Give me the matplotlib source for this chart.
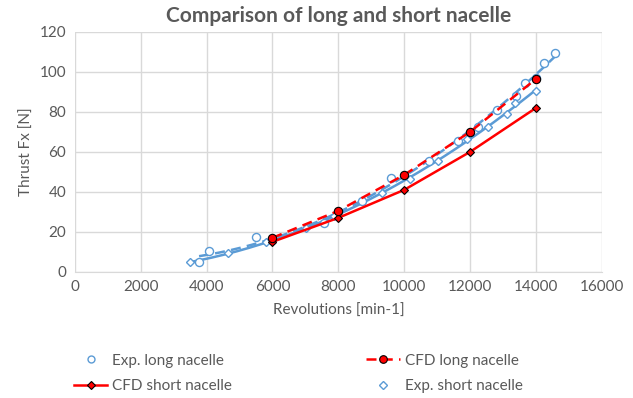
import numpy as np
import matplotlib
matplotlib.use('Agg')
import matplotlib.pyplot as plt
from matplotlib.lines import Line2D

plt.rcParams['font.family'] = ['Lato', 'DejaVu Sans']

# experiment, long nacelle (open circles)
exp_long_rpm = [3774, 4077, 5515, 6000, 7570, 8000, 8713, 9594, 10757, 11637,
                12244, 12815, 13380, 13660, 14000, 14248, 14562]
exp_long_fx = [4.7, 10.5, 17.2, 16.0, 24.3, 30.0, 35.6, 47.0, 55.6, 65.5,
               72.3, 81.0, 88.0, 94.3, 97.0, 104.3, 109.3]

# experiment, short nacelle (open diamonds)
exp_short_rpm = [3491, 4655, 5798, 7013, 7863, 9310, 10170, 11030, 11890,
                 12528, 13124, 13357, 13995]
exp_short_fx = [4.7, 9.2, 14.7, 21.8, 28.0, 39.3, 46.3, 55.6, 66.3,
                72.3, 79.0, 84.3, 90.2]

# CFD
cfd_rpm = [6000, 8000, 10000, 12000, 14000]
cfd_long_fx = [17.0, 30.5, 48.5, 70.0, 96.5]
cfd_short_fx = [15.0, 27.0, 41.0, 60.0, 82.0]

blue = '#5B9BD5'
red = '#FF0000'
grey = '#595959'

fig = plt.figure(figsize=(6.33, 3.98), dpi=100)
ax = fig.add_axes([0.118, 0.317, 0.833, 0.603])

# excel style 2nd order trendlines of the experiments
for rpm, fx, ls in [(exp_long_rpm, exp_long_fx, (0, (4, 2.5))),
                    (exp_short_rpm, exp_short_fx, '-')]:
    c = np.polyfit(rpm, fx, 2)
    xs = np.linspace(min(rpm), max(rpm), 200)
    ax.plot(xs, np.polyval(c, xs), color=blue, lw=1.8, ls=ls, zorder=2)

ax.plot(exp_long_rpm, exp_long_fx, 'o', ms=5.8, mfc='white', mec=blue,
        mew=1.0, ls='none', zorder=3)
ax.plot(exp_short_rpm, exp_short_fx, 'D', ms=3.8, mfc='white', mec=blue,
        mew=1.0, ls='none', zorder=3)

ax.plot(cfd_rpm, cfd_short_fx, color=red, lw=1.8, marker='D', ms=4.5,
        mfc=red, mec='black', mew=0.8, zorder=4)
ax.plot(cfd_rpm, cfd_long_fx, color=red, lw=1.8, ls=(0, (4, 2.5)), marker='o',
        ms=6, mfc=red, mec='black', mew=0.8, zorder=4)

ax.set_xlim(0, 16000)
ax.set_ylim(0, 120)
ax.set_xticks(np.arange(0, 16001, 2000))
ax.set_yticks(np.arange(0, 121, 20))
ax.grid(True, color='#D9D9D9', lw=1)
ax.set_axisbelow(True)
for s in ['top', 'right', 'left']:
    ax.spines[s].set_visible(False)
ax.spines['bottom'].set_color('#D9D9D9')
ax.tick_params(length=0, labelsize=11, colors=grey, pad=6)

ax.set_title('Comparison of long and short nacelle', fontsize=15,
             fontweight='bold', color=grey, pad=7)
ax.set_xlabel('Revolutions [min-1]', fontsize=11, color=grey, labelpad=7)
ax.set_ylabel('Thrust Fx [N]', fontsize=11, color=grey, labelpad=4)

h_exp_long = Line2D([], [], ls='none', marker='o', ms=5, mfc='white', mec=blue)
h_cfd_long = Line2D([], [], color=red, lw=1.8, ls=(0, (4, 2.5)), marker='o',
                    ms=5.5, mfc=red, mec='black', mew=0.8)
h_cfd_short = Line2D([], [], color=red, lw=1.8, marker='D', ms=4, mfc=red,
                     mec='black', mew=0.8)
h_exp_short = Line2D([], [], ls='none', marker='D', ms=3.8, mfc='white', mec=blue)

leg = fig.legend([h_exp_long, h_cfd_short, h_cfd_long, h_exp_short],
                 ['Exp. long nacelle', 'CFD short nacelle',
                  'CFD long nacelle', 'Exp. short nacelle'],
                 ncol=2, loc='lower left', bbox_to_anchor=(0.095, -0.022),
                 frameon=False, fontsize=11, handlelength=2.2,
                 handletextpad=0.3, columnspacing=8.8, labelspacing=0.75)
for t in leg.get_texts():
    t.set_color(grey)

fig.savefig('out.png', dpi=100)
